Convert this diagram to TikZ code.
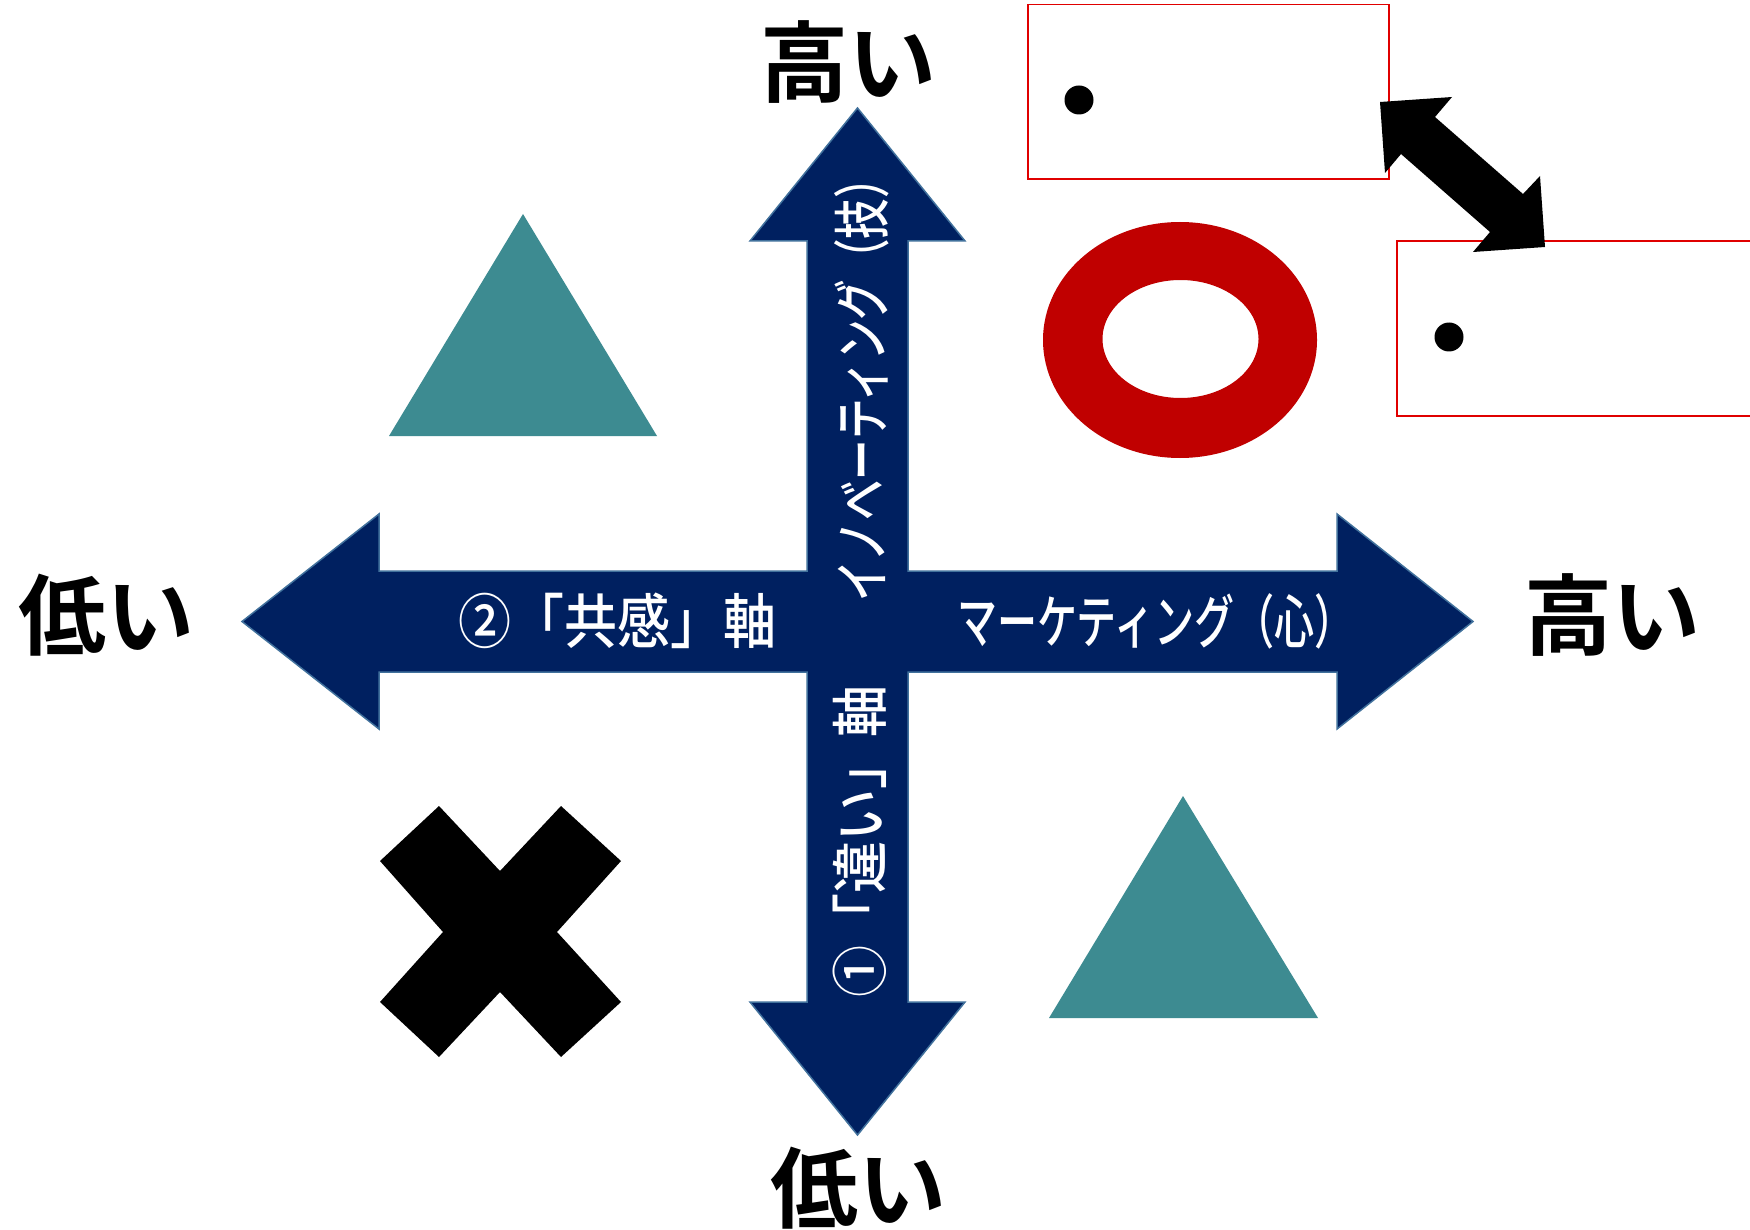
\documentclass[tikz,border=0pt]{standalone}
\usepackage{fontspec}
\newfontfamily\jp{Noto Sans CJK JP Medium}
\newfontfamily\jpb{Noto Sans CJK JP Bold}
\definecolor{navy}{HTML}{002060}
\definecolor{edgeblue}{HTML}{41719C}
\definecolor{tealtri}{HTML}{3D8B91}
\definecolor{ringred}{HTML}{C00000}
\definecolor{boxred}{HTML}{E00000}
\begin{document}
\begin{tikzpicture}[x=1pt,y=-1pt,
  lbl/.style={inner sep=0pt, text=black, font=\jpb\fontsize{88}{88}\selectfont},
  axtxt/.style={inner sep=0pt, text=white, font=\jp},
  redbox/.style={draw=boxred, line width=1.6pt},
  tri/.style={fill=tealtri},
  dot/.style={fill=black}]
\useasboundingbox (0,0) rectangle (1750,1230);
\clip (0,0) rectangle (1750,1230);
\fill[white] (0,0) rectangle (1750,1230);

% cross arrow
\filldraw[fill=navy, draw=edgeblue, line width=1.5pt, line join=miter]
  (857.5,108) -- (965,241) -- (908,241) -- (908,571) -- (1337,571) -- (1337,514)
  -- (1473,621.5) -- (1337,729) -- (1337,672) -- (908,672) -- (908,1002)
  -- (965,1002) -- (857.5,1135) -- (750,1002) -- (807,1002) -- (807,672)
  -- (379,672) -- (379,729) -- (242,621.5) -- (379,514) -- (379,571)
  -- (807,571) -- (807,241) -- (750,241) -- cycle;

% axis texts
\node[axtxt] (kyokan) at (617,621) {\scalebox{1}[1.12]{\fontsize{53}{53}\selectfont ②「共感」軸}};
\node[axtxt] (mkt) at (1156,621) {\scalebox{0.77}[1.12]{\fontsize{52}{52}\selectfont マーケティング（心）}};
\node[axtxt, rotate=90] (chigai) at (860,841) {\scalebox{1}[1.1]{\fontsize{52}{52}\selectfont ①「違い」軸}};
\node[axtxt, rotate=90] (innov) at (862,380) {\scalebox{0.78}[1.1]{\fontsize{52}{52}\selectfont イノベーティング（技）}};

% end labels
\node[lbl] (hiTop) at (848,62) {高い};
\node[lbl] (hiRight) at (1612,615) {高い};
\node[lbl] (loLeft) at (106,615) {低い};
\node[lbl] (loBottom) at (858,1188) {低い};

% triangles
\fill[tri] (523,214) -- (657,436) -- (389,436) -- cycle;
\fill[tri] (1183,796) -- (1318,1018) -- (1049,1018) -- cycle;

% ring
\fill[ringred, even odd rule] (1180,340) ellipse [x radius=137pt, y radius=118pt]
  (1180.5,339) ellipse [x radius=78pt, y radius=59pt];

% cross mark
\fill[black] (439,806) -- (500,871) -- (561,806) -- (621,861) -- (557,932)
  -- (621,1002) -- (561,1057) -- (500,992) -- (439,1057) -- (380,1002)
  -- (443,932) -- (380,861) -- cycle;

% red boxes with dots
\draw[redbox] (1028,4.5) rectangle (1389,179);
\fill[dot] (1079,100) circle [radius=14.5pt];
\draw[redbox] (1397,241) rectangle (1765,416);
\fill[dot] (1449,337) circle [radius=14.5pt];

% black double arrow
\fill[black] (1380,102) -- (1452,97) -- (1435,117) -- (1523,194) -- (1540,176)
  -- (1545,247) -- (1473,252) -- (1490,232) -- (1401,154) -- (1385,173) -- cycle;
\end{tikzpicture}
\end{document}
